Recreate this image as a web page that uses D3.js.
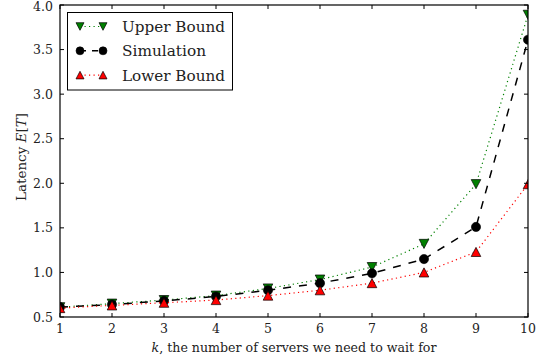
<!DOCTYPE html>
<html><head><meta charset="utf-8">
<script src="https://cdn.jsdelivr.net/npm/d3@7"></script>
<style>body{margin:0;background:#fff}svg{display:block}text{font-family:"DejaVu Serif",serif}</style>
</head><body><svg id="c" width="542" height="364"></svg>
<script>
const ks = [1,2,3,4,5,6,7,8,9,10];
const upper = [0.61,0.65,0.69,0.74,0.82,0.92,1.06,1.32,1.99,3.89];
const simulation = [0.61,0.64,0.68,0.73,0.80,0.88,0.99,1.15,1.51,3.61];
const lower = [0.60,0.63,0.66,0.69,0.74,0.80,0.88,1.00,1.23,1.99];
const yTicks = [0.5,1.0,1.5,2.0,2.5,3.0,3.5,4.0];
const xTicks = [1,2,3,4,5,6,7,8,9,10];
const seriesNames = ["Upper Bound","Simulation","Lower Bound"];

const svg = d3.select("#c");
const L=60,R=528,T=5,B=317;
const x = d3.scaleLinear().domain([1,10]).range([L,R]);
const y = d3.scaleLinear().domain([0.5,4.0]).range([B,T]);

svg.append("defs").append("clipPath").attr("id","clip").append("rect")
  .attr("x",L).attr("y",T).attr("width",R-L).attr("height",B-T);

const series = [
  {name:seriesNames[0], vals:upper, color:"#008000", dash:"1.2,3.3", w:1.2, marker:"down"},
  {name:seriesNames[1], vals:simulation, color:"#000", dash:"8,8", w:1.5, marker:"circle"},
  {name:seriesNames[2], vals:lower, color:"#ff0000", dash:"1.2,3.3", w:1.2, marker:"up"}
];
const g = svg.append("g").attr("clip-path","url(#clip)");
function drawMarker(sel, type, cx, cy, color, s){
  if(type==="circle"){
    sel.append("circle").attr("cx",cx).attr("cy",cy).attr("r",s).attr("fill","#000").attr("stroke","#000").attr("stroke-width",0.6);
  } else {
    const h=s*0.95;
    const pts = type==="down" ? [[cx-s,cy-h],[cx+s,cy-h],[cx,cy+h]] : [[cx-s,cy+h],[cx+s,cy+h],[cx,cy-h]];
    sel.append("polygon").attr("points",pts.map(p=>p.join(",")).join(" ")).attr("fill",color).attr("stroke","#000").attr("stroke-width",0.7);
  }
}
const line = d3.line().x((d,i)=>x(ks[i])).y(d=>y(d));
series.forEach(s=>{
  g.append("path").datum(s.vals).attr("d",line).attr("fill","none").attr("stroke",s.color)
    .attr("stroke-width",s.w).attr("stroke-dasharray",s.dash);
  s.vals.forEach((v,i)=>drawMarker(g,s.marker,x(ks[i]),y(v),s.color,s.marker==="circle"?4.6:4.8));
});

// axes frame
svg.append("rect").attr("x",L).attr("y",T).attr("width",R-L).attr("height",B-T).attr("fill","none").attr("stroke","#000").attr("stroke-width",1.2);
const ax = svg.append("g");
xTicks.forEach(t=>{
  ax.append("line").attr("x1",x(t)).attr("x2",x(t)).attr("y1",B).attr("y2",B-4).attr("stroke","#000");
  ax.append("line").attr("x1",x(t)).attr("x2",x(t)).attr("y1",T).attr("y2",T+4).attr("stroke","#000");
  ax.append("text").attr("x",x(t)).attr("y",B+16).attr("text-anchor","middle").attr("font-size",12.5).attr("fill","#222").text(t);
});
yTicks.forEach(t=>{
  ax.append("line").attr("x1",L).attr("x2",L+4).attr("y1",y(t)).attr("y2",y(t)).attr("stroke","#000");
  ax.append("line").attr("x1",R).attr("x2",R-4).attr("y1",y(t)).attr("y2",y(t)).attr("stroke","#000");
  ax.append("text").attr("x",L-7).attr("y",Math.max(y(t)+4.5,11)).attr("text-anchor","end").attr("font-size",12.5).attr("fill","#222").text(t.toFixed(1));
});
// x label
const xl = svg.append("text").attr("x",(L+R)/2).attr("y",352).attr("text-anchor","middle").attr("font-size",12.6).attr("fill","#222");
xl.append("tspan").attr("font-style","italic").text("k");
xl.append("tspan").text(", the number of servers we need to wait for");
// y label
const yl = svg.append("text").attr("transform",`translate(26,157) rotate(-90)`).attr("text-anchor","middle").attr("font-size",13.5).attr("fill","#222");
yl.append("tspan").text("Latency ");
yl.append("tspan").attr("font-style","italic").text("E");
yl.append("tspan").text("[");
yl.append("tspan").attr("font-style","italic").text("T");
yl.append("tspan").text("]");

// legend
const lg = svg.append("g");
lg.append("rect").attr("x",67.5).attr("y",12.5).attr("width",165).attr("height",77.5).attr("fill","#fff").attr("stroke","#000").attr("stroke-width",1);
series.forEach((s,i)=>{
  const cy = 26.5 + i*24.3;
  lg.append("line").attr("x1",80).attr("x2",103).attr("y1",cy).attr("y2",cy).attr("stroke",s.color).attr("stroke-width",s.w).attr("stroke-dasharray",s.marker==="circle"?"6,6":"1.2,3.3");
  drawMarker(lg,s.marker,80,cy,s.color,4);
  drawMarker(lg,s.marker,103,cy,s.color,4);
  lg.append("text").attr("x",122).attr("y",cy+5.5).attr("font-size",15).attr("fill","#222")
    .attr("textLength",s.name==="Simulation"?84:103).attr("lengthAdjust","spacingAndGlyphs").text(s.name);
});
</script></body></html>
